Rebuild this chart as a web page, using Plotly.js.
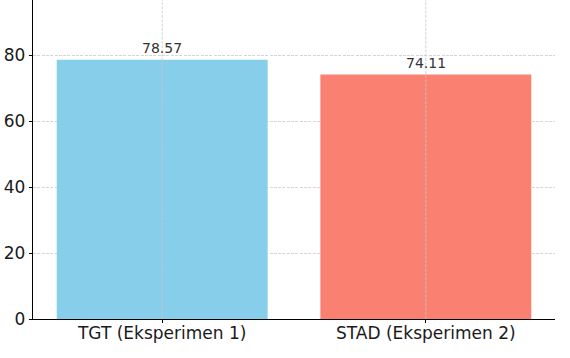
<!DOCTYPE html>
<html>
<head>
<meta charset="utf-8">
<script src="https://cdn.plot.ly/plotly-3.0.1.min.js"></script>
<style>html,body{margin:0;padding:0;background:#fff;}#chart{width:570px;height:358px;}</style>
</head>
<body>
<div id="chart"></div>
<script>
const categories = ["TGT (Eksperimen 1)", "STAD (Eksperimen 2)"];
const values = [78.57, 74.11];
const barColors = ["#87CEEB", "#FA8072"];
const valueLabels = ["78.57", "74.11"];

const trace = {
  type: "bar",
  x: categories.map((c, i) => i),
  y: values,
  width: 0.8,
  marker: { color: barColors, line: { width: 0 } },
  hoverinfo: "skip"
};

const annotations = values.map((v, i) => ({
  x: i, y: v, xref: "x", yref: "y",
  text: valueLabels[i], showarrow: false,
  yanchor: "bottom", yshift: 2,
  font: { family: "DejaVu Sans", size: 14, color: "#333333" }
}));

const shapes = categories.map((c, i) => ({
  type: "line", xref: "x", yref: "paper",
  x0: i, x1: i, y0: 0, y1: 1,
  line: { color: "#c8c8c8", width: 0.8, dash: "3px,1.3px" },
  layer: "above"
}));

const layout = {
  width: 570, height: 358,
  margin: { l: 33, r: 15, t: 0, b: 39 },
  paper_bgcolor: "#ffffff", plot_bgcolor: "#ffffff",
  showlegend: false,
  font: { family: "DejaVu Sans", size: 17, color: "#000000" },
  xaxis: {
    range: [-0.49, 1.49],
    tickmode: "array",
    tickvals: categories.map((c, i) => i),
    ticktext: categories,
    showgrid: false,
    zeroline: false,
    showline: true, linecolor: "#000000", linewidth: 1.2,
    ticks: "outside", ticklen: 3, tickwidth: 1, tickcolor: "#000000",
    ticklabelstandoff: -5,
    tickfont: { family: "DejaVu Sans", size: 17, color: "#1a1a1a" }
  },
  yaxis: {
    range: [0, 96.7],
    tickmode: "array",
    tickvals: [0, 20, 40, 60, 80],
    ticktext: ["0", "20", "40", "60", "80"],
    showgrid: true, gridcolor: "#cccccc", gridwidth: 0.8, griddash: "3px,1.3px",
    zeroline: false,
    showline: true, linecolor: "#000000", linewidth: 1.2,
    ticks: "outside", ticklen: 3, tickwidth: 1, tickcolor: "#000000",
    tickfont: { family: "DejaVu Sans", size: 17, color: "#1a1a1a" }
  },
  annotations: annotations,
  shapes: shapes
};

Plotly.newPlot("chart", [trace], layout, { displayModeBar: false, staticPlot: true });
</script>
</body>
</html>
